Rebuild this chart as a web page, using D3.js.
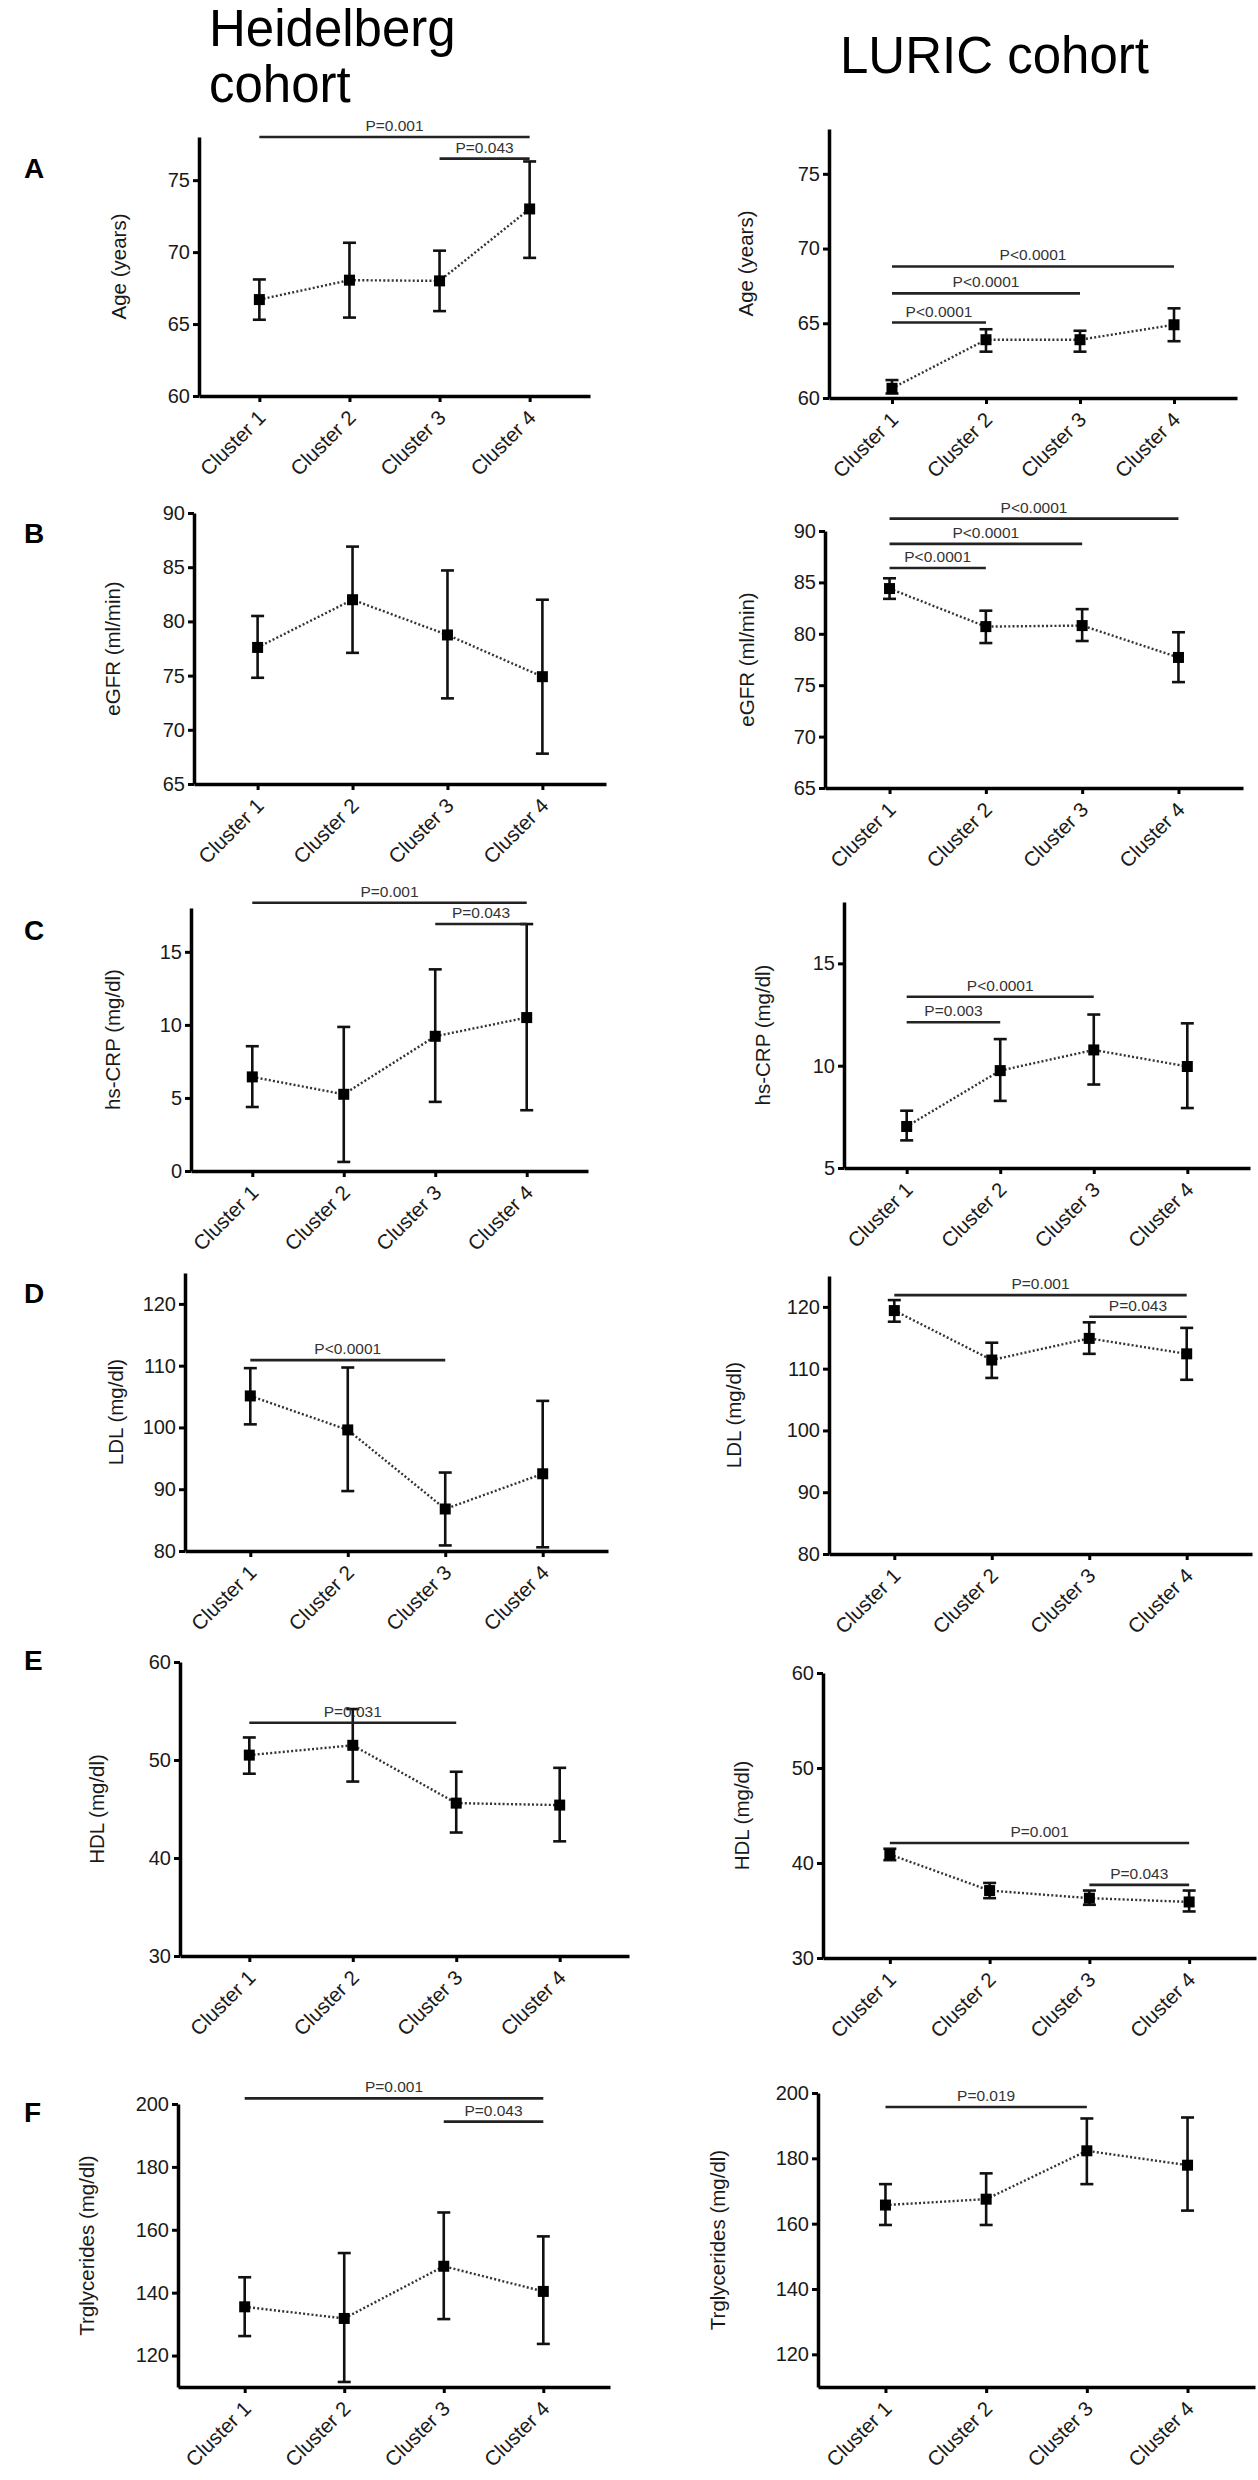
<!DOCTYPE html>
<html>
<head>
<meta charset="utf-8">
<script src="https://cdn.jsdelivr.net/npm/d3@7"></script>
<style>
  body { margin: 0; background: #fff; }
  svg { display: block; font-family: "Liberation Sans", Arial, sans-serif; }
</style>
</head>
<body>
<div id="chart"></div>
<script>
// ---- data ----
const clusters = ['Cluster 1', 'Cluster 2', 'Cluster 3', 'Cluster 4'];
const panelLetters = ['A', 'B', 'C', 'D', 'E', 'F'];
const yTitles = ['Age (years)', 'eGFR (ml/min)', 'hs-CRP (mg/dl)', 'LDL (mg/dl)', 'HDL (mg/dl)', 'Trglycerides (mg/dl)'];

const heidelbergDomains = [[60, 78], [65, 90], [0, 18], [80, 125], [30, 60], [110, 200]];
const luricDomains = [[60, 78], [65, 90], [5, 18], [80, 125], [30, 60], [110, 200]];
const heidelbergTicks = [[60, 65, 70, 75], [65, 70, 75, 80, 85, 90], [0, 5, 10, 15], [80, 90, 100, 110, 120], [30, 40, 50, 60], [120, 140, 160, 180, 200]];
const luricTicks = [[60, 65, 70, 75], [65, 70, 75, 80, 85, 90], [5, 10, 15], [80, 90, 100, 110, 120], [30, 40, 50, 60], [120, 140, 160, 180, 200]];

const heidelbergMean = [
  [66.7, 68.05, 68.0, 73.0],
  [77.6, 82.0, 78.75, 74.9],
  [6.44, 5.25, 9.22, 10.5],
  [105.1, 99.6, 86.8, 92.5],
  [50.5, 51.5, 45.6, 45.4],
  [135.5, 131.8, 148.4, 140.4]
];
const heidelbergUpper = [
  [68.1, 70.65, 70.1, 76.3],
  [80.5, 86.9, 84.7, 82.0],
  [8.54, 9.86, 13.8, 16.9],
  [109.6, 109.7, 92.7, 104.3],
  [52.3, 55.2, 48.8, 49.2],
  [144.9, 152.6, 165.5, 157.9]
];
const heidelbergLower = [
  [65.3, 65.45, 65.9, 69.6],
  [74.8, 77.1, 72.9, 67.8],
  [4.38, 0.62, 4.73, 4.16],
  [100.5, 89.7, 80.9, 80.6],
  [48.6, 47.8, 42.6, 41.7],
  [126.2, 111.6, 131.6, 123.7]
];

const luricMean = [
  [60.65, 63.9, 63.9, 64.9],
  [84.4, 80.7, 80.8, 77.7],
  [7.03, 9.76, 10.77, 9.96],
  [119.4, 111.4, 114.9, 112.4],
  [40.9, 37.1, 36.3, 35.9],
  [165.7, 167.5, 182.3, 177.9]
];
const luricUpper = [
  [61.2, 64.6, 64.5, 66.0],
  [85.4, 82.25, 82.4, 80.15],
  [7.8, 11.3, 12.5, 12.07],
  [121.1, 114.2, 117.5, 116.6],
  [41.5, 37.9, 37.1, 37.1],
  [172.1, 175.4, 192.2, 192.5]
];
const luricLower = [
  [60.3, 63.1, 63.1, 63.8],
  [83.4, 79.1, 79.3, 75.3],
  [6.35, 8.28, 9.08, 7.93],
  [117.6, 108.5, 112.4, 108.2],
  [40.3, 36.3, 35.6, 34.9],
  [159.6, 159.6, 172.1, 164.0]
];

// significance brackets: [from cluster, to cluster, y value, label]
const heidelbergSig = [
  [[0, 3, 78.0, 'P=0.001'], [2, 3, 76.5, 'P=0.043']],
  [],
  [[0, 3, 18.36, 'P=0.001'], [2, 3, 16.9, 'P=0.043']],
  [[0, 2, 110.9, 'P<0.0001']],
  [[0, 2, 53.8, 'P=0.031']],
  [[0, 3, 201.8, 'P=0.001'], [2, 3, 194.4, 'P=0.043']]
];
const luricSig = [
  [[0, 1, 65.05, 'P<0.0001'], [0, 2, 67.0, 'P<0.0001'], [0, 3, 68.8, 'P<0.0001']],
  [[0, 1, 86.4, 'P<0.0001'], [0, 2, 88.75, 'P<0.0001'], [0, 3, 91.2, 'P<0.0001']],
  [[0, 1, 12.12, 'P=0.003'], [0, 2, 13.37, 'P<0.0001']],
  [[0, 3, 121.9, 'P=0.001'], [2, 3, 118.4, 'P=0.043']],
  [[0, 3, 42.1, 'P=0.001'], [2, 3, 37.7, 'P=0.043']],
  [[0, 2, 195.7, 'P=0.019']]
];

// ---- layout (pixels) ----
// [x0, x1, yTop, yBottom, yTitle x]
const leftLayout = [
  [199, 590, 137, 396, 119],
  [194, 606, 513, 784, 113],
  [191, 588, 908, 1171, 113],
  [185, 608, 1273, 1551, 116],
  [180, 629, 1662, 1956, 97],
  [178, 610, 2104, 2387, 87]
];
const rightLayout = [
  [829, 1237, 129, 398, 746],
  [825, 1243, 531, 788, 747],
  [844, 1250, 902, 1168, 763],
  [829, 1252, 1276, 1554, 734],
  [823, 1256, 1673, 1958, 742],
  [818, 1255, 2093, 2387, 718]
];
const letterBaselines = [178, 543, 940, 1303, 1670, 2122];

const width = 1258, height = 2480;
const font = '"Liberation Sans", Arial, sans-serif';

const svg = d3.select('#chart')
  .append('svg')
  .attr('width', width)
  .attr('height', height);

svg.append('rect').attr('width', width).attr('height', height).attr('fill', '#fff');

// column titles
svg.append('text').attr('x', 209).attr('y', 46).attr('font-size', 51).text('Heidelberg');
svg.append('text').attr('x', 209).attr('y', 102).attr('font-size', 51).text('cohort');
svg.append('text').attr('x', 840).attr('y', 73).attr('font-size', 51).text('LURIC cohort');

// panel letters
svg.selectAll('.letter')
  .data(panelLetters)
  .enter()
  .append('text')
  .attr('class', 'letter')
  .attr('x', 24)
  .attr('y', (d, i) => letterBaselines[i])
  .attr('font-size', 28)
  .attr('font-weight', 'bold')
  .text(d => d);

function drawPanel(layout, domain, ticks, mean, upper, lower, sigs, title) {
  const [x0, x1, yTop, yBot, titleX] = layout;
  const g = svg.append('g');

  const x = d3.scalePoint().domain(clusters).range([x0, x1]).padding(0.67);
  const y = d3.scaleLinear().domain(domain).range([yBot, yTop]);

  // y axis
  const yAxis = g.append('g')
    .attr('transform', `translate(${x0},0)`)
    .call(d3.axisLeft(y).tickValues(ticks).tickSize(6).tickSizeOuter(0).tickPadding(3));
  yAxis.select('.domain').attr('stroke', '#000').attr('stroke-width', 3.5);
  yAxis.selectAll('.tick line').attr('stroke', '#000').attr('stroke-width', 3);
  yAxis.selectAll('.tick text')
    .attr('font-size', 20)
    .attr('font-family', font)
    .attr('fill', '#1a1a1a');

  // x axis
  const xAxis = g.append('g')
    .attr('transform', `translate(0,${yBot})`)
    .call(d3.axisBottom(x).tickSize(6).tickSizeOuter(0));
  xAxis.select('.domain').attr('stroke', '#000').attr('stroke-width', 3.5);
  xAxis.selectAll('.tick line').attr('stroke', '#000').attr('stroke-width', 3);
  xAxis.selectAll('.tick text')
    .attr('font-size', 20.5)
    .attr('font-family', font)
    .attr('fill', '#1a1a1a')
    .attr('text-anchor', 'end')
    .attr('dy', 0)
    .attr('y', 0)
    .attr('transform', 'translate(7,23) rotate(-45)');

  // y title
  g.append('text')
    .attr('transform', `translate(${titleX},${(yTop + yBot) / 2}) rotate(-90)`)
    .attr('text-anchor', 'middle')
    .attr('dy', '0.35em')
    .attr('font-size', 20.5)
    .attr('fill', '#1a1a1a')
    .text(title);

  // dotted connecting line
  const line = d3.line()
    .x((d, i) => x(clusters[i]))
    .y(d => y(d));
  g.append('path')
    .datum(mean)
    .attr('d', line)
    .attr('fill', 'none')
    .attr('stroke', '#333')
    .attr('stroke-width', 2.4)
    .attr('stroke-dasharray', '2,2.2');

  // error bars
  const bars = g.selectAll('.err')
    .data(mean)
    .enter()
    .append('g')
    .attr('class', 'err');
  bars.append('line')
    .attr('x1', (d, i) => x(clusters[i]))
    .attr('x2', (d, i) => x(clusters[i]))
    .attr('y1', (d, i) => y(upper[i]))
    .attr('y2', (d, i) => y(lower[i]))
    .attr('stroke', '#111')
    .attr('stroke-width', 2.6);
  [upper, lower].forEach(arr => {
    bars.append('line')
      .attr('x1', (d, i) => x(clusters[i]) - 6.5)
      .attr('x2', (d, i) => x(clusters[i]) + 6.5)
      .attr('y1', (d, i) => y(arr[i]))
      .attr('y2', (d, i) => y(arr[i]))
      .attr('stroke', '#111')
      .attr('stroke-width', 2.6);
  });
  bars.append('rect')
    .attr('x', (d, i) => x(clusters[i]) - 5.5)
    .attr('y', d => y(d) - 5.5)
    .attr('width', 11)
    .attr('height', 11)
    .attr('fill', '#000');

  // significance brackets
  const sig = g.selectAll('.sig')
    .data(sigs)
    .enter()
    .append('g')
    .attr('class', 'sig');
  sig.append('line')
    .attr('x1', d => x(clusters[d[0]]))
    .attr('x2', d => x(clusters[d[1]]))
    .attr('y1', d => y(d[2]))
    .attr('y2', d => y(d[2]))
    .attr('stroke', '#222')
    .attr('stroke-width', 2.6);
  sig.append('text')
    .attr('x', d => (x(clusters[d[0]]) + x(clusters[d[1]])) / 2)
    .attr('y', d => y(d[2]) - 6)
    .attr('text-anchor', 'middle')
    .attr('font-size', 15.5)
    .attr('fill', '#333')
    .text(d => d[3]);
}

for (let i = 0; i < 6; i++) {
  drawPanel(leftLayout[i], heidelbergDomains[i], heidelbergTicks[i],
    heidelbergMean[i], heidelbergUpper[i], heidelbergLower[i], heidelbergSig[i], yTitles[i]);
  drawPanel(rightLayout[i], luricDomains[i], luricTicks[i],
    luricMean[i], luricUpper[i], luricLower[i], luricSig[i], yTitles[i]);
}
</script>
</body>
</html>
